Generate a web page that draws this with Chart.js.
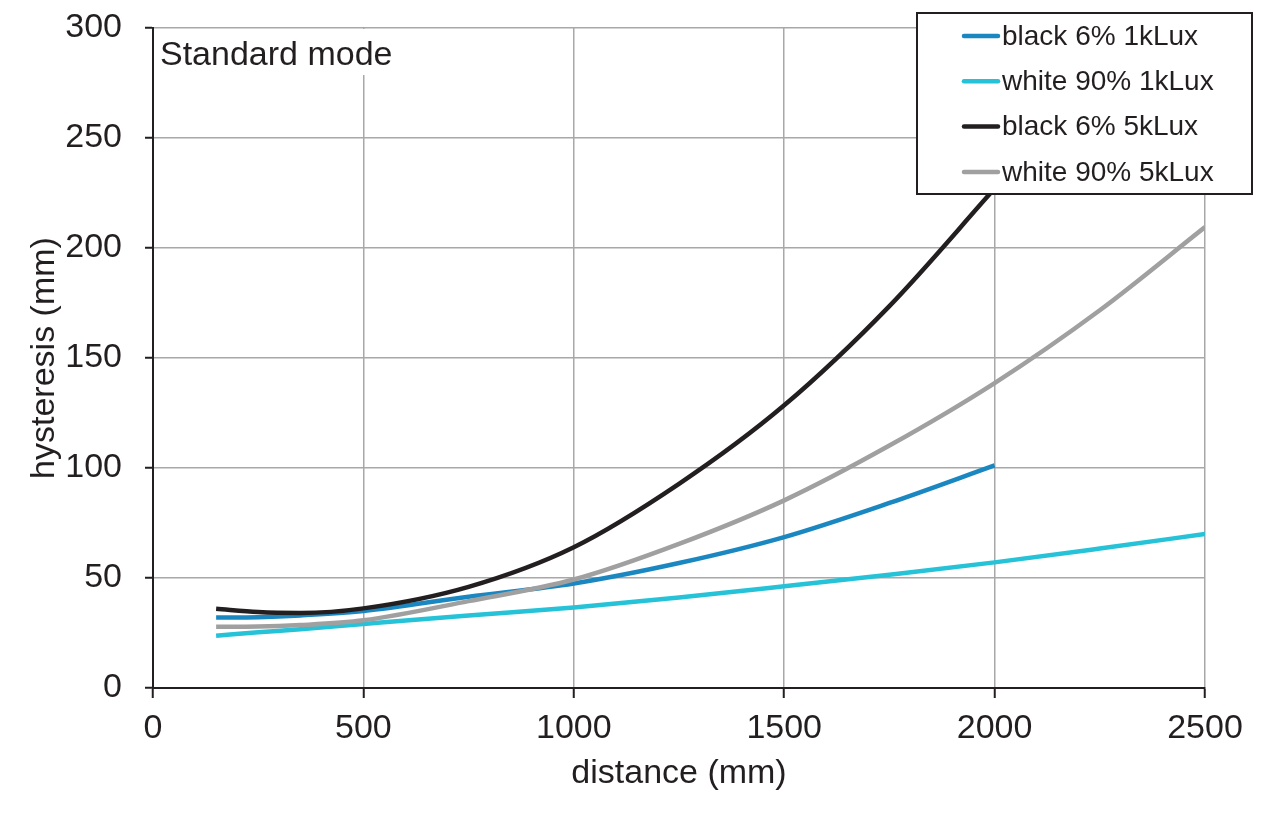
<!DOCTYPE html>
<html>
<head>
<meta charset="utf-8">
<script src="https://cdn.jsdelivr.net/npm/chart.js@4/dist/chart.umd.min.js"></script>
<style>
  html, body { margin: 0; padding: 0; background: #ffffff; }
  #wrap { width: 1280px; height: 832px; }
</style>
</head>
<body>
<div id="wrap"><canvas id="c" width="1280" height="832"></canvas></div>
<script>
// ---- data ----
const seriesLabels = ['black 6% 1kLux', 'white 90% 1kLux', 'black 6% 5kLux', 'white 90% 5kLux'];
const seriesColors = ['#1b87c0', '#25c2d8', '#231f20', '#a0a0a0'];

const black1kX = [150, 250, 350, 500, 750, 1000, 1250, 1500, 1750, 2000];
const black1kY = [32, 32.2, 33, 35, 41.5, 47.5, 56.8, 68.6, 84.1, 101.2];

const white1kX = [150, 250, 350, 500, 750, 1000, 1250, 1500, 1750, 2000, 2250, 2500];
const white1kY = [23.8, 25.3, 26.7, 29.1, 33, 36.6, 41.1, 46.2, 51.5, 57.1, 63.4, 70];

const black5kX = [150, 250, 350, 500, 750, 1000, 1250, 1500, 1750, 2000];
const black5kY = [36, 34.5, 34.1, 36.2, 46, 64, 92.8, 128.5, 173.6, 227];

const white5kX = [150, 250, 350, 500, 750, 1000, 1250, 1500, 1750, 2000, 2250, 2500];
const white5kY = [27.8, 27.9, 28.6, 30.8, 39.5, 49.3, 65.5, 85.3, 110.2, 138.6, 171.7, 209.5];

const xTicks = [0, 500, 1000, 1500, 2000, 2500];
const yTicks = [0, 50, 100, 150, 200, 250, 300];
const xTitle = 'distance (mm)';
const yTitle = 'hysteresis (mm)';
const modeLabel = 'Standard mode';

// ---- build ----
const FONT = '"Liberation Sans", Arial, Helvetica, sans-serif';
const TXT = '#231f20';
const GRID = '#a8a8a8';

function pts(xs, ys) { return xs.map((x, i) => ({ x: x, y: ys[i] })); }
const xsAll = [black1kX, white1kX, black5kX, white5kX];
const ysAll = [black1kY, white1kY, black5kY, white5kY];

const datasets = seriesLabels.map((lab, i) => ({
  label: lab,
  data: pts(xsAll[i], ysAll[i]),
  borderColor: seriesColors[i],
  backgroundColor: seriesColors[i],
  borderWidth: 4.5,
  pointRadius: 0,
  pointHoverRadius: 0,
  fill: false,
  cubicInterpolationMode: 'monotone',
  borderCapStyle: 'butt'
}));
datasets[0].order = 2; datasets[1].order = 3; datasets[2].order = 0; datasets[3].order = 1;

const overlay = {
  id: 'overlay',
  afterDraw(chart) {
    const ctx = chart.ctx;
    const ca = chart.chartArea;
    ctx.save();
    ctx.fillStyle = '#ffffff';
    ctx.fillRect(ca.left + 2, ca.top + 1, 250, 46);
    ctx.fillStyle = TXT;
    ctx.font = '34px ' + FONT;
    ctx.textAlign = 'left';
    ctx.textBaseline = 'alphabetic';
    ctx.fillText(modeLabel, ca.left + 7, ca.top + 37);

    const bx = ca.right - 288, by = ca.top - 15, bw = 335, bh = 181;
    ctx.fillStyle = '#ffffff';
    ctx.fillRect(bx, by, bw, bh);
    ctx.strokeStyle = TXT;
    ctx.lineWidth = 2;
    ctx.strokeRect(bx, by, bw, bh);
    ctx.font = '28px ' + FONT;
    ctx.textBaseline = 'middle';
    chart.data.datasets.forEach((ds, i) => {
      const cy = by + 23 + i * 45.3;
      ctx.strokeStyle = ds.borderColor;
      ctx.lineWidth = 4.5;
      ctx.lineCap = 'round';
      ctx.beginPath();
      ctx.moveTo(bx + 47, cy);
      ctx.lineTo(bx + 81, cy);
      ctx.stroke();
      ctx.fillStyle = TXT;
      ctx.fillText(ds.label, bx + 85, cy + 1);
    });
    ctx.restore();
  }
};

new Chart(document.getElementById('c'), {
  type: 'line',
  data: { datasets: datasets },
  options: {
    responsive: false,
    animation: false,
    devicePixelRatio: 1,
    layout: { padding: { top: 28, right: 75, left: 0, bottom: 0 } },
    plugins: { legend: { display: false }, tooltip: { enabled: false } },
    scales: {
      x: {
        type: 'linear',
        min: 0, max: 2500,
        afterBuildTicks(s) { s.ticks = xTicks.map(v => ({ value: v })); },
        afterFit(s) { s.height = 144; s.paddingLeft = 0; s.paddingRight = 0; },
        ticks: { color: TXT, font: { family: FONT, size: 34 }, padding: 10, maxRotation: 0, callback: v => String(v) },
        grid: { color: GRID, lineWidth: 1.5, tickLength: 10, tickColor: TXT, tickWidth: 2 },
        border: { color: TXT, width: 2 },
        title: { display: true, text: xTitle, color: TXT, font: { family: FONT, size: 34 }, padding: { top: 0, bottom: 38 } }
      },
      y: {
        type: 'linear',
        min: 0, max: 300,
        afterBuildTicks(s) { s.ticks = yTicks.map(v => ({ value: v })); },
        afterFit(s) { s.width = 153; s.paddingTop = 0; s.paddingBottom = 0; },
        ticks: { color: TXT, font: { family: FONT, size: 34 }, padding: 23, callback: v => String(v) },
        grid: { color: GRID, lineWidth: 1.5, tickLength: 8, tickColor: TXT, tickWidth: 2 },
        border: { color: TXT, width: 2 },
        title: { display: true, text: yTitle, color: TXT, font: { family: FONT, size: 34 }, padding: { top: 24, bottom: 0 } }
      }
    }
  },
  plugins: [overlay]
});
</script>
</body>
</html>
